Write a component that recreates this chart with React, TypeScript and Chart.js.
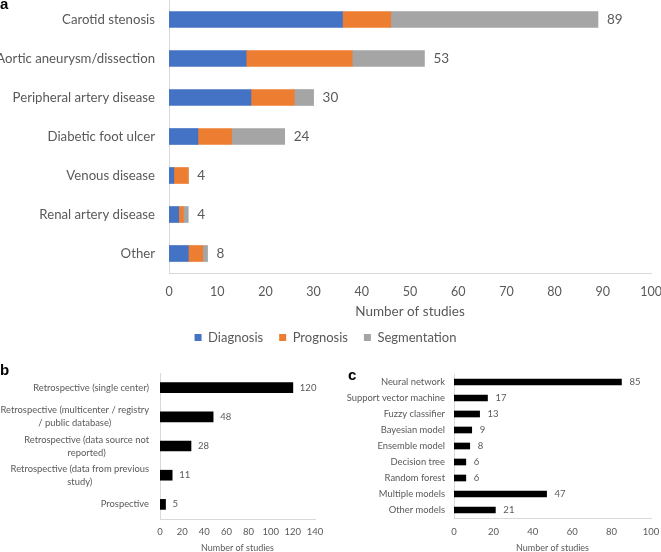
import React, { useEffect, useRef } from "react";
import { Chart, registerables } from "chart.js";

Chart.register(...registerables);

// ---------- data ----------
const conditionLabels = [
  "Carotid stenosis",
  "Aortic aneurysm/dissection",
  "Peripheral artery disease",
  "Diabetic foot ulcer",
  "Venous disease",
  "Renal artery disease",
  "Other",
];
const diagnosisValues = [36, 16, 17, 6, 1, 2, 4];
const prognosisValues = [10, 22, 9, 7, 3, 1, 3];
const segmentationValues = [43, 15, 4, 11, 0, 1, 1];
const seriesNames = ["Diagnosis", "Prognosis", "Segmentation"];
const axisTitle = "Number of studies";

const designLabels = [
  ["Retrospective (single center)"],
  ["Retrospective (multicenter / registry", "/ public database)"],
  ["Retrospective (data source not", "reported)"],
  ["Retrospective (data from previous", "study)"],
  ["Prospective"],
];
const designValues = [120, 48, 28, 11, 5];

const modelLabels = [
  "Neural network",
  "Support vector machine",
  "Fuzzy classifier",
  "Bayesian model",
  "Ensemble model",
  "Decision tree",
  "Random forest",
  "Multiple models",
  "Other models",
];
const modelValues = [85, 17, 13, 9, 8, 6, 6, 47, 21];

// ---------- styles ----------
const FAMILY = "Lato";
const TXT = "#595959";
const AXIS = "#d9d9d9";
const BLUE = "#4472C4";
const ORANGE = "#ED7D31";
const GRAY = "#A5A5A5";

function totalsPlugin(id: string, offset: number, size: number, color: string) {
  return {
    id,
    afterDatasetsDraw(chart: any) {
      const { ctx } = chart;
      const xs = chart.scales.x;
      const ys = chart.scales.y;
      const n = chart.data.labels.length;
      ctx.save();
      ctx.font = `${size}px ${FAMILY}`;
      ctx.fillStyle = color;
      ctx.textAlign = "left";
      ctx.textBaseline = "middle";
      for (let i = 0; i < n; i++) {
        const total = chart.data.datasets.reduce(
          (s: number, d: any) => s + (d.data[i] as number),
          0
        );
        ctx.fillText(String(total), xs.getPixelForValue(total) + offset, ys.getPixelForValue(i));
      }
      ctx.restore();
    },
  };
}

// category labels with centred lines inside a right-aligned block
function blockLabelsPlugin(gap: number, size: number, lineH: number) {
  return {
    id: "blockLabels",
    afterDraw(chart: any) {
      const { ctx } = chart;
      const ys = chart.scales.y;
      const right = chart.chartArea.left - gap;
      ctx.save();
      ctx.font = `${size}px ${FAMILY}`;
      ctx.fillStyle = TXT;
      ctx.textAlign = "center";
      ctx.textBaseline = "middle";
      (chart.data.labels as string[][]).forEach((lines, i) => {
        const w = Math.max(...lines.map((l) => ctx.measureText(l).width));
        const cx = right - w / 2;
        const cy = ys.getPixelForValue(i);
        lines.forEach((l, j) => {
          ctx.fillText(l, cx, cy + (j - (lines.length - 1) / 2) * lineH);
        });
      });
      ctx.restore();
    },
  };
}

function ChartA() {
  const ref = useRef<HTMLCanvasElement>(null);
  useEffect(() => {
    const font = (size: number) => ({ family: FAMILY, size });
    const chart = new Chart(ref.current!, {
      type: "bar",
      data: {
        labels: conditionLabels,
        datasets: [
          { label: seriesNames[0], data: diagnosisValues, backgroundColor: BLUE, barThickness: 16 },
          { label: seriesNames[1], data: prognosisValues, backgroundColor: ORANGE, barThickness: 16 },
          { label: seriesNames[2], data: segmentationValues, backgroundColor: GRAY, barThickness: 16 },
        ],
      },
      options: {
        indexAxis: "y",
        responsive: false,
        animation: false,
        layout: { padding: { top: 0, right: 10, bottom: 0, left: 0 } },
        scales: {
          x: {
            stacked: true,
            min: 0,
            max: 100,
            ticks: { stepSize: 10, font: font(12.5), color: TXT, padding: 11.5, maxRotation: 0, minRotation: 0 },
            grid: { display: false, drawTicks: false },
            border: { display: true, color: AXIS },
            title: {
              display: true,
              text: axisTitle,
              font: font(13.5),
              color: TXT,
              padding: { top: 0, bottom: -5 },
            },
            afterFit: (s: any) => {
              s.height = 42;
              s.paddingLeft = 0;
              s.paddingRight = 0;
            },
          },
          y: {
            stacked: true,
            ticks: { font: font(13.2), color: TXT, padding: 14 },
            grid: { display: false, drawTicks: false },
            border: { display: true, color: AXIS },
            afterFit: (s: any) => {
              s.width = 169;
              s.paddingTop = 0;
              s.paddingBottom = 0;
            },
          },
        },
        plugins: {
          legend: {
            position: "bottom",
            labels: { boxWidth: 7, boxHeight: 7, padding: 16, font: font(13), color: TXT },
          },
          tooltip: { enabled: false },
        },
      } as any,
      plugins: [totalsPlugin("totalsA", 9, 13.5, TXT)],
    });
    return () => chart.destroy();
  }, []);
  return (
    <canvas
      ref={ref}
      width={661}
      height={354}
      style={{ position: "absolute", left: 0, top: 0, width: 661, height: 354 }}
    />
  );
}

function ChartB() {
  const ref = useRef<HTMLCanvasElement>(null);
  useEffect(() => {
    const font = (size: number) => ({ family: FAMILY, size });
    const chart = new Chart(ref.current!, {
      type: "bar",
      data: {
        labels: designLabels as any,
        datasets: [{ label: "Studies", data: designValues, backgroundColor: "#000000", barThickness: 10 }],
      },
      options: {
        indexAxis: "y",
        responsive: false,
        animation: false,
        layout: { padding: { top: 43, right: 15, bottom: 0, left: 0 } },
        scales: {
          x: {
            min: 0,
            max: 140,
            ticks: {
              stepSize: 20,
              font: font(9.5),
              color: TXT,
              padding: 7,
              maxRotation: 0,
              minRotation: 0,
              autoSkip: false,
            },
            grid: { display: false, drawTicks: false },
            border: { display: true, color: AXIS },
            title: { display: true, text: axisTitle, font: font(9), color: TXT, padding: { top: 0, bottom: 1 } },
            afterFit: (s: any) => {
              s.height = 35;
              s.paddingLeft = 0;
              s.paddingRight = 0;
            },
          },
          y: {
            ticks: { display: false },
            grid: { display: false, drawTicks: false },
            border: { display: true, color: AXIS },
            afterFit: (s: any) => {
              s.width = 160;
              s.paddingTop = 0;
              s.paddingBottom = 0;
            },
          },
        },
        plugins: { legend: { display: false }, tooltip: { enabled: false } },
      } as any,
      plugins: [totalsPlugin("totalsB", 7, 9.5, TXT), blockLabelsPlugin(11, 9.4, 13)],
    });
    return () => chart.destroy();
  }, []);
  return (
    <canvas
      ref={ref}
      width={330}
      height={224}
      style={{ position: "absolute", left: 0, top: 330, width: 330, height: 224 }}
    />
  );
}

function ChartC() {
  const ref = useRef<HTMLCanvasElement>(null);
  useEffect(() => {
    const font = (size: number) => ({ family: FAMILY, size });
    const chart = new Chart(ref.current!, {
      type: "bar",
      data: {
        labels: modelLabels,
        datasets: [{ label: "Studies", data: modelValues, backgroundColor: "#000000", barThickness: 6 }],
      },
      options: {
        indexAxis: "y",
        responsive: false,
        animation: false,
        layout: { padding: { top: 44, right: 10, bottom: 0, left: 0 } },
        scales: {
          x: {
            min: 0,
            max: 100,
            ticks: {
              stepSize: 20,
              font: font(9.5),
              color: TXT,
              padding: 8,
              maxRotation: 0,
              minRotation: 0,
              autoSkip: false,
            },
            grid: { display: false, drawTicks: false },
            border: { display: true, color: AXIS },
            title: { display: true, text: axisTitle, font: font(9), color: TXT, padding: { top: 0, bottom: 1 } },
            afterFit: (s: any) => {
              s.height = 36;
              s.paddingLeft = 0;
              s.paddingRight = 0;
            },
          },
          y: {
            ticks: { font: font(9.4), color: TXT, padding: 9 },
            grid: { display: false, drawTicks: false },
            border: { display: true, color: AXIS },
            afterFit: (s: any) => {
              s.width = 124;
              s.paddingTop = 0;
              s.paddingBottom = 0;
            },
          },
        },
        plugins: { legend: { display: false }, tooltip: { enabled: false } },
      } as any,
      plugins: [totalsPlugin("totalsC", 8, 9.5, TXT)],
    });
    return () => chart.destroy();
  }, []);
  return (
    <canvas
      ref={ref}
      width={331}
      height={224}
      style={{ position: "absolute", left: 330, top: 330, width: 331, height: 224 }}
    />
  );
}

const letterStyle: React.CSSProperties = {
  position: "absolute",
  font: 'bold 15px "Liberation Sans"',
  lineHeight: "15px",
  color: "#000",
};

export default function App() {
  return (
    <div
      style={{
        position: "fixed",
        left: 0,
        top: 0,
        width: 661,
        height: 552,
        overflow: "hidden",
        background: "#fff",
      }}
    >
      <ChartA />
      <ChartB />
      <ChartC />
      <span style={{ ...letterStyle, left: 0, top: -4 }}>a</span>
      <span style={{ ...letterStyle, left: 0, top: 362 }}>b</span>
      <span style={{ ...letterStyle, left: 348, top: 367 }}>c</span>
    </div>
  );
}
